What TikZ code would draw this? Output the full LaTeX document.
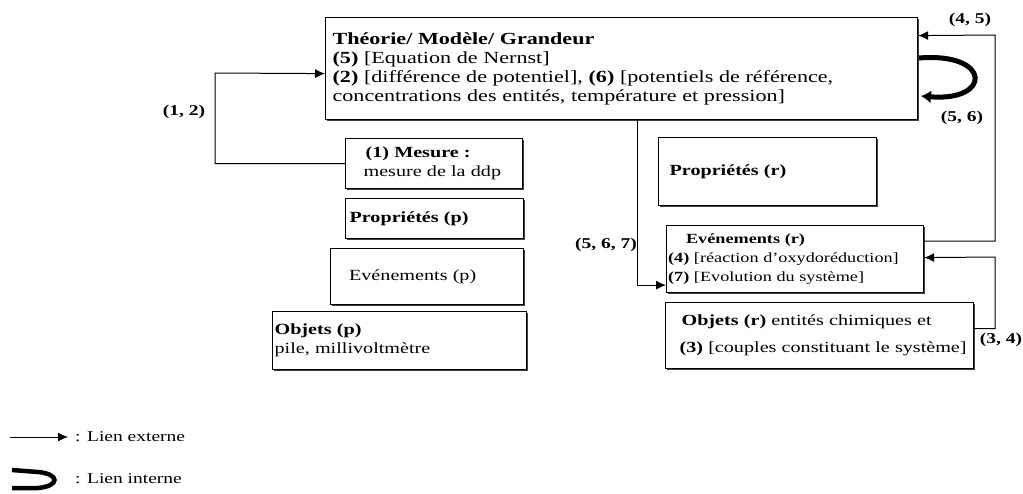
\documentclass[tikz,border=0pt]{standalone}
\usepackage{fontspec}
\setmainfont[FakeStretch=1.3]{Liberation Serif}
\usetikzlibrary{arrows.meta,shadows}
\begin{document}
\begin{tikzpicture}[x=1pt,y=-1pt,
  box/.style={draw, line width=1.2pt, fill=white, anchor=north west,
    inner sep=0pt, align=left,
    drop shadow={shadow xshift=1.8pt, shadow yshift=-1.8pt, fill=black!75, opacity=1},
    font=\fontsize{15.5}{19}\selectfont},
  ext/.style={line width=1pt, -{Latex[length=10pt,width=9pt]}},
  int/.style={line width=5pt, -{Latex[length=10pt,width=13pt]}},
  lab/.style={font=\bfseries\fontsize{15}{18}\selectfont, inner sep=1pt},
  leg/.style={font=\fontsize{15}{18}\selectfont, anchor=west, inner sep=0pt}]
\useasboundingbox (0,0) rectangle (1023,493);

% boxes of the theory and of the reference field
\node[box, minimum width=592pt, minimum height=102pt, text width=578pt,
      font=\fontsize{17}{19}\selectfont] (top) at (325,17)
  {\textbf{Théorie/ Modèle/ Grandeur}\\
   \textbf{(5)} [Equation de Nernst]\\
   \textbf{(2)} [différence de potentiel], \textbf{(6)} [potentiels de référence,\\
   concentrations des entités, température et pression]\\[-6pt]};

\node[box, minimum width=177pt, minimum height=50pt, text width=165pt] (mes) at (345,138)
  {\hspace*{14pt}\textbf{(1) Mesure :}\\\hspace*{12pt}mesure de la ddp};
\node[box, minimum width=178pt, minimum height=40pt, text width=170pt] (propp) at (345,198)
  {\textbf{Propriétés (p)}};
\node[box, minimum width=193pt, minimum height=56pt, text width=176pt] (evp) at (330,248)
  {\hspace*{10pt}Evénements (p)};
\node[box, minimum width=254pt, minimum height=58pt, text width=250pt] (objp) at (272,311)
  {\textbf{Objets (p)}\\pile, millivoltmètre};

\node[box, minimum width=218pt, minimum height=68pt, text width=196pt] (propr) at (658,137)
  {\textbf{Propriétés (r)}\\[20pt]};
\node[box, minimum width=257pt, minimum height=67pt, text width=254pt,
      font=\fontsize{14}{19}\selectfont] (evr) at (666,225)
  {\hspace*{18pt}\textbf{Evénements (r)}\\
   \textbf{(4)} [réaction d'oxydoréduction]\\
   \textbf{(7)} [Evolution du système]};
\node[box, minimum width=308pt, minimum height=66pt, text width=300pt] (objr) at (665,302)
  {\hspace*{12pt}\textbf{Objets (r)} entités chimiques et\\[8pt]
   \hspace*{10pt}\textbf{(3)} [couples constituant le système]};

% bends of the external links
\coordinate (k12) at (215,73);
\coordinate (k45) at (995,35);
\coordinate (k34) at (995,257);

% external links
\draw[ext] (mes.west) -| (k12) -- ([yshift=-5pt]top.west);
\draw[ext] ([xshift=16pt]top.south) |- ([yshift=-26pt]evr.west);
\draw[ext] ([yshift=18pt]evr.east) -| (k45) -- ([yshift=33pt]top.east);
\draw[ext] ([yshift=7pt]objr.east) -| (k34) -- ([yshift=1.5pt]evr.east);

% internal link of the theory box
\coordinate (l1) at (919,58);
\coordinate (l2) at (921,96);
\draw[int] (l1) .. controls (992,52) and (992,102) .. (l2);

% link labels
\node[lab] (t12) at (184,112) {(1, 2)};
\node[lab] (t45) at (970,20) {(4, 5)};
\node[lab] (t56) at (962,118) {(5, 6)};
\node[lab] (t567) at (606,245) {(5, 6, 7)};
\node[lab] (t34) at (1001,340) {(3, 4)};

% legend
\coordinate (a1) at (10,437);
\coordinate (a2) at (68,437);
\draw[ext] (a1) -- (a2);
\node[leg] (le) at (75,437) {: Lien externe};
\coordinate (b1) at (12,470);
\coordinate (b2) at (12,488);
\draw[line width=4.5pt] (b1) -- (38,472) .. controls (60,474) and (60,486) .. (38,488) -- (b2);
\node[leg] (li) at (75,479) {: Lien interne};
\end{tikzpicture}
\end{document}
